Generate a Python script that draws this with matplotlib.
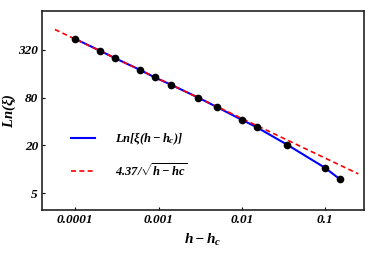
import matplotlib
matplotlib.use("Agg")
import matplotlib.pyplot as plt

# data (log-log)
h_vals = [1e-4, 2e-4, 3e-4, 6e-4, 9e-4, 1.4e-3, 3e-3, 5e-3, 0.01, 0.015, 0.035, 0.1, 0.15]
xi_vals = [440, 311, 252, 179, 144, 117, 80, 61, 42, 34, 20.4, 10.4, 7.5]

# fit line 4.37/sqrt(h-hc), end points
fit_x = [5.7e-5, 0.25]
fit_y = [579, 8.74]

x_ticks = [0.0001, 0.001, 0.01, 0.1]
x_labels = ["0.0001", "0.001", "0.01", "0.1"]
y_ticks = [5, 20, 80, 320]
y_labels = ["5", "20", "80", "320"]

plt.rcParams['font.family'] = ['Liberation Serif', 'DejaVu Serif']
plt.rcParams['font.weight'] = 'bold'
plt.rcParams['font.style'] = 'italic'
plt.rcParams['mathtext.fontset'] = 'custom'
plt.rcParams['mathtext.it'] = 'Liberation Serif:italic:bold'
plt.rcParams['mathtext.rm'] = 'Liberation Serif:italic:bold'
plt.rcParams['mathtext.bf'] = 'Liberation Serif:italic:bold'


def make_plot():
    fig = plt.figure(figsize=(3.66, 2.56), dpi=100)
    ax = fig.add_axes([0.115, 0.18, 0.88, 0.777])

    ax.plot(h_vals, xi_vals, color='blue', lw=1.5, label=r'$Ln[\xi(h-h_c)]$', zorder=2)
    ax.plot(fit_x, fit_y, color='red', lw=1.2, ls=(0, (3, 2)),
            label=r'$4.37/\sqrt{h-hc}$', zorder=3)
    ax.plot(h_vals, xi_vals, 'o', color='black', ms=4.5, zorder=4)

    ax.set_xscale('log')
    ax.set_yscale('log')
    ax.set_xlim(4.0e-5, 0.294)
    ax.set_ylim(3.07, 990)

    ax.set_xticks(x_ticks)
    ax.set_xticklabels(x_labels)
    ax.set_yticks(y_ticks)
    ax.set_yticklabels(y_labels)
    ax.minorticks_off()
    ax.tick_params(axis='both', labelsize=9.5, length=2, width=0.8, direction='in', pad=3)

    for s in ax.spines.values():
        s.set_linewidth(1.2)
        s.set_color('#222222')

    ax.set_xlabel(r'$h-h_c$', fontsize=11, labelpad=4)
    ax.set_ylabel(r'$Ln(\xi)$', fontsize=10.5)
    ax.yaxis.set_label_coords(-0.075, 0.5)

    ax.legend(loc='lower left', bbox_to_anchor=(0.055, 0.1), frameon=False,
              fontsize=9, handlelength=1.9, labelspacing=1.2, handletextpad=1.6)

    fig.savefig("out.png", dpi=100)


if __name__ == "__main__":
    make_plot()
